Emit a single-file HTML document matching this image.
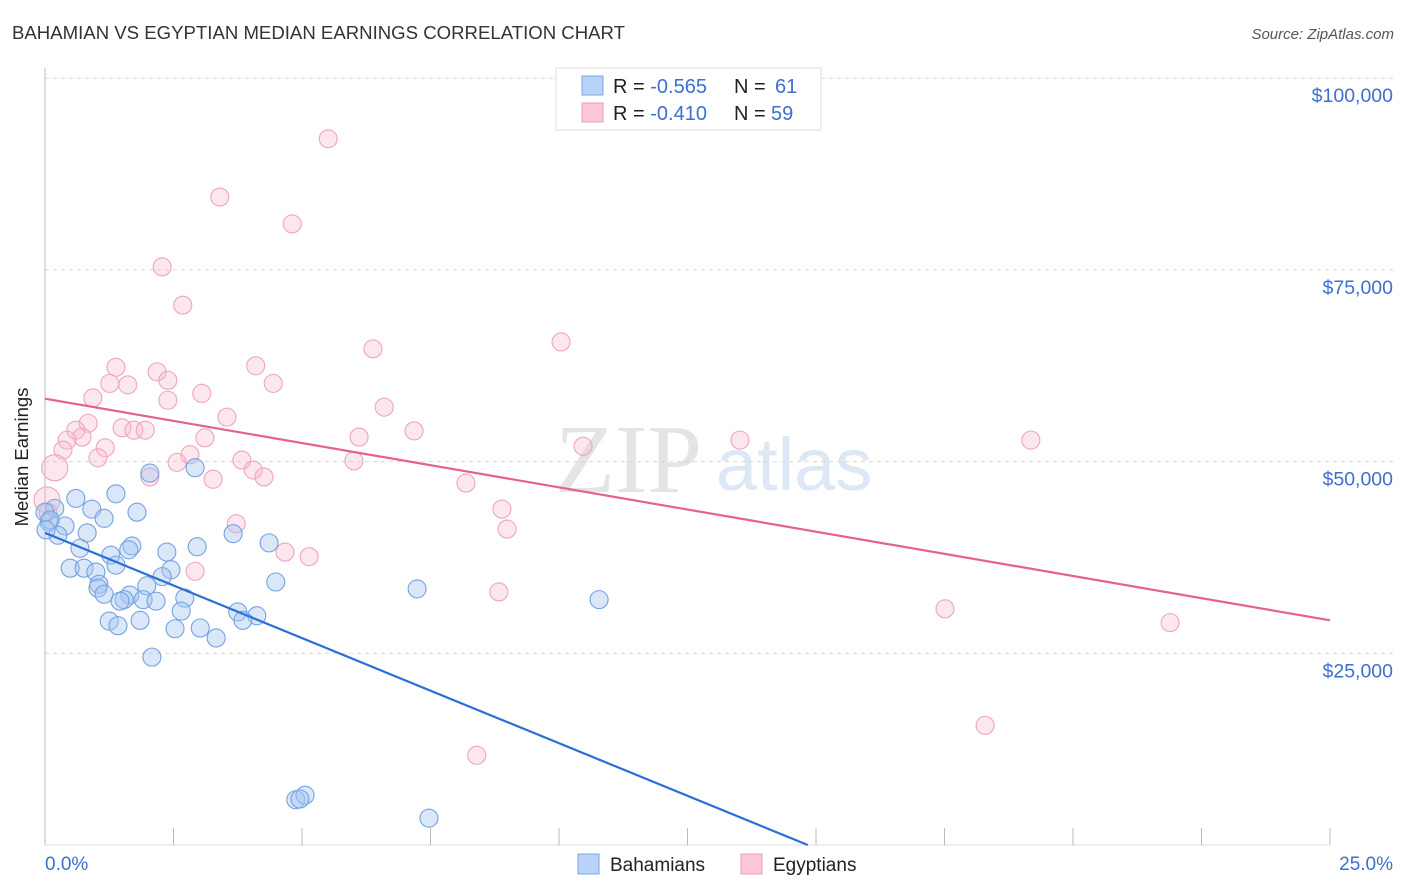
<!DOCTYPE html>
<html><head><meta charset="utf-8"><style>
body{margin:0;background:#fff;}
svg{display:block;font-family:"Liberation Sans",sans-serif;}
</style></head><body>
<svg id="chart" width="1406" height="892" viewBox="0 0 1406 892">
<text x="12" y="39" font-size="18.6" fill="#333">BAHAMIAN VS EGYPTIAN MEDIAN EARNINGS CORRELATION CHART</text>
<text x="1394" y="39" font-size="15" fill="#555" font-style="italic" text-anchor="end">Source: ZipAtlas.com</text>
<g>
<text x="555" y="492" font-family="Liberation Serif,serif" font-size="98" fill="#e4e4e4">ZIP</text>
<text x="716" y="490" font-size="74" fill="#dce8f6">atlas</text>
</g>
<g id="grid"></g>
<line x1="45" y1="68" x2="45" y2="845" stroke="#bbb"/>
<line x1="45" y1="845" x2="1330" y2="845" stroke="#ddd"/>
<g id="xticks"></g>
<text x="28" y="457" font-size="18.5" fill="#222" text-anchor="middle" transform="rotate(-90 28 457)">Median Earnings</text>
<text x="45" y="870" font-size="19" fill="#3d6fd1">0.0%</text>
<text x="1393" y="870" font-size="19" fill="#3d6fd1" text-anchor="end">25.0%</text>
<g id="pts"></g>
<g id="trends"></g>
<g>
<rect x="556" y="68" width="265" height="62" fill="#fff" stroke="#ddd"/>
<rect x="582" y="76" width="21" height="19" fill="#b8d3f7" stroke="#7aa6e3"/>
<rect x="582" y="103" width="21" height="19" fill="#fcc8d8" stroke="#ef9ab5"/>
<text x="613" y="93" font-size="20" fill="#222">R = <tspan fill="#3d6fd1">-0.565</tspan><tspan x="734">N = </tspan><tspan x="775" fill="#3d6fd1">61</tspan></text>
<text x="613" y="120" font-size="20" fill="#222">R = <tspan fill="#3d6fd1"> -0.410</tspan><tspan x="734">N = </tspan><tspan x="771" fill="#3d6fd1">59</tspan></text>
</g>
<g>
<rect x="578" y="854" width="21" height="20" fill="#b8d3f7" stroke="#7aa6e3"/>
<text x="610" y="871" font-size="19" fill="#222">Bahamians</text>
<rect x="741" y="854" width="21" height="20" fill="#fcc8d8" stroke="#ef9ab5"/>
<text x="773" y="871" font-size="19" fill="#222">Egyptians</text>
</g>
</svg>
<script>
const yTicks=[25000,50000,75000,100000];
const yTickLabels=["$25,000","$50,000","$75,000","$100,000"];
const xTicks=[0,2.5,5,7.5,10,12.5,15,17.5,20,22.5,25];
const blueX=[2.04,2.92,1.38,0.60,0.91,1.79,1.15,0.19,0.08,0.39,0.25,0.82,3.66,4.36,0.68,1.69,1.28,1.63,2.37,2.96,0.49,0.76,0.99,1.38,2.45,2.28,4.49,7.24,1.05,1.03,1.98,1.65,2.72,1.15,1.54,1.46,1.91,2.16,2.65,3.75,4.12,3.85,1.25,1.42,1.85,2.53,3.02,3.33,2.08,10.78,4.88,5.06,7.47,4.96,0.0,0.1,0.02];
const blueY=[48.5,49.2,45.8,45.2,43.8,43.4,42.6,43.9,42.1,41.6,40.4,40.7,40.6,39.4,38.7,39.0,37.8,38.5,38.2,38.9,36.1,36.1,35.6,36.5,35.9,35.0,34.3,33.4,34.0,33.5,33.8,32.6,32.2,32.7,32.0,31.8,32.0,31.8,30.5,30.4,29.9,29.3,29.2,28.6,29.3,28.2,28.3,27.0,24.5,32.0,5.9,6.5,3.5,6.0,43.4,42.4,41.1];
const pinkX=[5.51,3.40,4.81,2.28,2.68,10.04,6.38,1.38,4.10,2.18,1.26,1.61,2.39,4.44,3.05,0.93,2.39,6.60,3.54,0.84,0.60,1.50,1.73,1.95,0.72,0.43,7.18,3.11,6.11,13.52,19.18,10.47,1.17,0.35,1.03,2.82,2.57,3.83,6.01,2.04,4.05,4.26,3.27,0.19,0.04,8.19,8.89,8.99,3.72,4.67,5.14,2.92,8.83,17.51,21.89,18.29,8.40,0.06];
const pinkY=[92.1,84.5,81.0,75.4,70.4,65.6,64.7,62.3,62.5,61.7,60.2,60.0,60.6,60.2,58.9,58.3,58.0,57.1,55.8,55.0,54.1,54.4,54.1,54.1,53.2,52.8,54.0,53.1,53.2,52.8,52.8,52.0,51.8,51.5,50.5,50.9,49.9,50.2,50.1,48.0,48.9,48.0,47.7,49.2,45.0,47.2,43.8,41.2,41.9,38.2,37.6,35.7,33.0,30.8,29.0,15.6,11.7,43.4];
const blueTrendX=[0,14.84];
const blueTrendY=[40.7,0];
const pinkTrendX=[0,25];
const pinkTrendY=[58.2,29.3];
const NS="http://www.w3.org/2000/svg";
function sx(v){return 45+v/25*1285;}
function sy(k){return 845-k/25*191.7;}
function mk(tag,attrs,parent){const e=document.createElementNS(NS,tag);for(const k in attrs)e.setAttribute(k,attrs[k]);parent.appendChild(e);return e;}
const grid=document.getElementById('grid');
yTicks.forEach((t,i)=>{
 const y=sy(t/1000);
 const l=mk('line',{x1:45,x2:1394,y1:y,y2:y,stroke:'#d8d8d8','stroke-dasharray':'4,4'},grid);
 
 
 const tx=mk('text',{x:1393,y:y+24,'font-size':19.5,fill:'#3d6fd1','text-anchor':'end'},grid);
 tx.textContent=yTickLabels[i];
 
 
});
const xt=document.getElementById('xticks');
xTicks.forEach(t=>{
 const x=sx(t);
 const l=mk('line',{x1:x,x2:x,y1:828,y2:845,stroke:'#bbb'},xt);
 
 
});
const pts=document.getElementById('pts');
pinkX.forEach((v,i)=>{
 const big=(v<0.3&&pinkY[i]>44&&pinkY[i]<50);
 const c=mk('circle',{cx:sx(v),cy:sy(pinkY[i]),r:big?13:9,fill:'rgba(249,185,205,0.35)',stroke:'#eea4bc','stroke-width':1.1},pts);
 
 
});
blueX.forEach((v,i)=>{
 const c=mk('circle',{cx:sx(v),cy:sy(blueY[i]),r:9,fill:'rgba(165,198,240,0.42)',stroke:'#74a2e0','stroke-width':1.1},pts);
 
 
});
const tr=document.getElementById('trends');
const pl=mk('line',{x1:sx(pinkTrendX[0]),y1:sy(pinkTrendY[0]),x2:sx(pinkTrendX[1]),y2:sy(pinkTrendY[1]),stroke:'#e4628c','stroke-width':2.2},tr);


const bl=mk('line',{x1:sx(blueTrendX[0]),y1:sy(blueTrendY[0]),x2:sx(blueTrendX[1]),y2:sy(blueTrendY[1]),stroke:'#2b6fd6','stroke-width':2.2},tr);


</script>
</body></html>
